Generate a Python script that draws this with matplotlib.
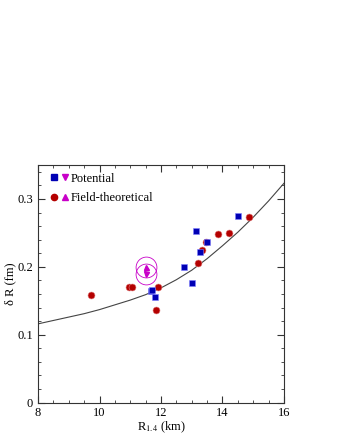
import matplotlib
matplotlib.use("Agg")
import matplotlib.pyplot as plt
from matplotlib.legend_handler import HandlerTuple
from matplotlib.ticker import MultipleLocator

plt.rcParams['font.family'] = ['Liberation Serif', 'DejaVu Serif']
plt.rcParams['mathtext.fontset'] = 'stix'

# potential models (blue squares)
pot_R = [11.68, 11.72, 11.79, 12.76, 13.0, 13.15, 13.27, 13.51, 14.50]
pot_dR = [0.165, 0.166, 0.155, 0.200, 0.176, 0.253, 0.222, 0.237, 0.275]

# field-theoretical models (red circles)
ft_R = [9.73, 10.95, 11.06, 11.90, 11.84, 13.21, 13.32, 13.45, 13.87, 14.22, 14.85]
ft_dR = [0.159, 0.171, 0.170, 0.170, 0.137, 0.205, 0.225, 0.237, 0.248, 0.250, 0.273]

# magenta triangles (with open circles)
tri_R = 11.51
tri_up = 0.200
tri_down = 0.190

# fit curve
fit_R = [8, 8.5, 9, 9.5, 10, 10.5, 11, 11.5, 12, 12.5, 13, 13.5, 14, 14.5, 15, 15.5, 16]
fit_dR = [0.116, 0.121, 0.126, 0.131, 0.137, 0.144, 0.151, 0.159, 0.169, 0.181,
          0.195, 0.212, 0.231, 0.251, 0.273, 0.297, 0.323]

blue = '#0000b4'
red = '#b40000'
mag = '#c800c8'

fig = plt.figure(figsize=(3.4, 4.4), dpi=100)
ax = fig.add_axes([0.112, 0.085, 0.723, 0.54])

ax.plot(fit_R, fit_dR, color='#444444', lw=0.8)
ax.plot(pot_R, pot_dR, 's', color=blue, ms=5, mec='#8080ff', mew=0.4, zorder=3)
ax.plot(ft_R, ft_dR, 'o', color=red, ms=5, mec='#e08080', mew=0.4, zorder=2)
ax.plot([tri_R], [tri_up], '^', color=mag, ms=3.6, zorder=4)
ax.plot([tri_R], [tri_down], 'v', color=mag, ms=3.6, zorder=4)
ax.plot([tri_R, tri_R], [tri_up, tri_down], 'o', mfc='none', mec=mag, ms=15, mew=0.6, zorder=4)

ax.set_xlim(8, 16)
ax.set_ylim(0, 0.35)
ax.xaxis.set_major_locator(MultipleLocator(2))
ax.xaxis.set_minor_locator(MultipleLocator(0.5))
ax.yaxis.set_major_locator(MultipleLocator(0.1))
ax.yaxis.set_minor_locator(MultipleLocator(0.02))
ax.set_yticks([0, 0.1, 0.2, 0.3])
ax.set_yticklabels(['0', '0.1', '0.2', '0.3'])
ax.tick_params(which='both', direction='in', top=True, right=True, labelsize=9, color='#333333')
ax.tick_params(which='major', length=5)
ax.tick_params(which='minor', length=2.5)
for s in ax.spines.values():
    s.set_color('#333333')
    s.set_linewidth(0.8)

ax.set_xlabel('R$_{1.4}$ (km)', fontsize=9, labelpad=0)
ax.set_ylabel('δ R (fm)', fontsize=9, labelpad=1)

h1 = plt.Line2D([], [], marker='s', ls='', color=blue, ms=4)
h2 = plt.Line2D([], [], marker='v', ls='', color=mag, ms=4)
h3 = plt.Line2D([], [], marker='o', ls='', color=red, ms=4.5)
h4 = plt.Line2D([], [], marker='^', ls='', color=mag, ms=4)
ax.legend([(h1, h2), (h3, h4)], ['Potential', 'Field-theoretical'],
          handler_map={tuple: HandlerTuple(ndivide=None, pad=0.3)},
          loc='upper left', frameon=False, fontsize=9, handlelength=1.4,
          handletextpad=0.2, borderaxespad=0.2, labelspacing=0.6,
          bbox_to_anchor=(0.02, 1.0))

fig.savefig('out.png', dpi=100)
